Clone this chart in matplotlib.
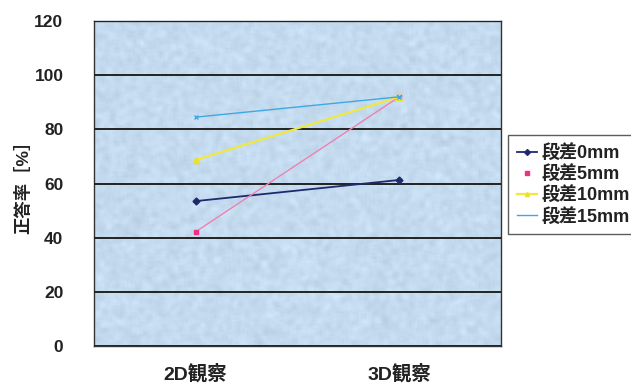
import numpy as np
import matplotlib.pyplot as plt
from matplotlib.lines import Line2D

plt.rcParams['font.family'] = ['Liberation Sans', 'Noto Sans CJK JP', 'DejaVu Sans']

# 観察条件ごとの正答率 [%]
conditions = ['2D観察', '3D観察']
step_0mm = [53.5, 61.3]
step_5mm = [42.2, 92.0]
step_10mm = [68.7, 92.0]
step_15mm = [84.5, 92.0]
series_names = ['段差0mm', '段差5mm', '段差10mm', '段差15mm']

fig = plt.figure(figsize=(6.31, 3.83), dpi=100)
ax = fig.add_axes([94 / 631, 1 - 346 / 383, 407 / 631, 325 / 383])

# 背景: 淡い青のざらついた地
rng = np.random.default_rng(7)
tex = rng.normal(0, 1, (160, 200))
k = np.ones(3) / 3
tex = np.apply_along_axis(lambda r: np.convolve(r, k, mode='same'), 1, tex)
tex = np.apply_along_axis(lambda c: np.convolve(c, k, mode='same'), 0, tex)
base = np.array([0.77, 0.86, 0.94])
img = np.clip(base[None, None, :] + 0.045 * tex[:, :, None], 0, 1)
ax.imshow(img, extent=(-0.5, 1.5, 0, 120), aspect='auto', zorder=0,
          interpolation='bilinear')

x = np.arange(len(conditions))
ax.plot(x, step_0mm, color='#1f2a6e', lw=1.3, marker='D', ms=3.5, zorder=3)
ax.plot(x, step_5mm, color='#f080b0', lw=1.0, marker='s', ms=3.5,
        mfc='#f03080', mec='#f03080', zorder=3)
ax.plot(x, step_10mm, color='#f0e840', lw=1.6, marker='^', ms=4,
        mfc='#f0e020', mec='#f0e020', zorder=3)
ax.plot(x, step_15mm, color='#40a8e0', lw=1.0, marker='x', ms=3.5, zorder=3)

ax.set_xlim(-0.5, 1.5)
ax.set_ylim(0, 120)
ax.set_yticks(range(0, 121, 20))
ax.set_xticks(x)
ax.set_xticklabels(conditions, fontsize=14, fontweight='bold', color='#222222')
ax.tick_params(axis='y', labelsize=12.5, labelcolor='#222222', length=0, pad=22)
ax.tick_params(axis='x', length=0, pad=13)
for lab in ax.get_yticklabels():
    lab.set_fontweight('bold')
ax.grid(axis='y', color='#222222', lw=1.4, zorder=1)
ax.set_axisbelow(False)
for s in ax.spines.values():
    s.set_color('#333333')
    s.set_linewidth(1.0)
fig.text(23 / 631, 1 - 183 / 383, '正答率［%］', rotation=90, fontsize=12.5,
         fontweight='bold', color='#222222', ha='center', va='center')

handles = [
    Line2D([], [], color='#1f2a6e', lw=1.3, marker='D', ms=3),
    Line2D([], [], color='none', marker='s', ms=3, mfc='#f03080', mec='#f03080'),
    Line2D([], [], color='#f0e840', lw=1.6, marker='^', ms=3,
           mfc='#f0e020', mec='#f0e020'),
    Line2D([], [], color='#40a8e0', lw=1.0),
]
leg = fig.legend(handles, series_names, loc='upper left',
                 bbox_to_anchor=(508 / 631, 1 - 135 / 383),
                 prop={'size': 13, 'weight': 'bold'},
                 frameon=True, fancybox=False, handlelength=1.1,
                 handletextpad=0.25, borderpad=0.5, borderaxespad=0,
                 labelspacing=0.18)
leg.get_frame().set_edgecolor('#333333')
leg.get_frame().set_linewidth(1.0)
for t in leg.get_texts():
    t.set_color('#222222')

fig.savefig('out.png', dpi=100)
